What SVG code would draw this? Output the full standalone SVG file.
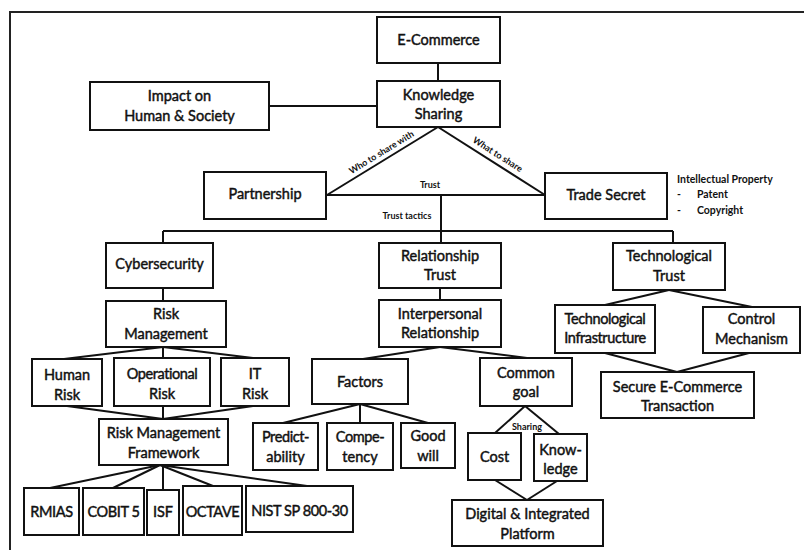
<svg xmlns="http://www.w3.org/2000/svg" width="804" height="550" viewBox="0 0 804 550">
<style>
.b{fill:#fff;stroke:#111;stroke-width:2}
.t{font-family:Lato,"Liberation Sans",sans-serif;font-size:14.5px;fill:#111;text-anchor:middle;stroke:#111;stroke-width:0.45}
.n{letter-spacing:-0.4px}
.s{font-family:Lato,"Liberation Sans",sans-serif;font-size:9px;font-weight:bold;fill:#111;text-anchor:middle}
.ip{font-family:Lato,"Liberation Sans",sans-serif;font-size:10.5px;font-weight:bold;fill:#111}
.c line{stroke:#111;stroke-width:2}
</style>
<rect width="804" height="550" fill="#fff"/>
<g id="frame"><path d="M10,550 V12 H804" fill="none" stroke="#222" stroke-width="2"/></g>
<g class="c" id="connectors">
<line x1="438" y1="63" x2="438" y2="81"/>
<line x1="269" y1="106" x2="377" y2="106"/>
<line x1="438" y1="127" x2="327" y2="195"/>
<line x1="438" y1="127" x2="545" y2="195"/>
<line x1="327" y1="195" x2="545" y2="195"/>
<line x1="441" y1="195" x2="441" y2="243"/>
<line x1="163" y1="231" x2="673" y2="231"/>
<line x1="163" y1="231" x2="163" y2="243"/>
<line x1="673" y1="231" x2="673" y2="243"/>
<line x1="163" y1="288" x2="163" y2="301"/>
<line x1="440" y1="288" x2="440" y2="300"/>
<line x1="669" y1="290" x2="605" y2="305"/>
<line x1="669" y1="290" x2="752" y2="307"/>
<line x1="605" y1="353" x2="677" y2="372"/>
<line x1="749" y1="353" x2="677" y2="372"/>
<line x1="163" y1="347" x2="64" y2="359"/>
<line x1="163" y1="347" x2="163" y2="358"/>
<line x1="163" y1="347" x2="253" y2="358"/>
<line x1="67" y1="406" x2="163" y2="419"/>
<line x1="163" y1="406" x2="163" y2="419"/>
<line x1="253" y1="406" x2="163" y2="419"/>
<line x1="160" y1="465" x2="50" y2="488"/>
<line x1="160" y1="465" x2="113" y2="488"/>
<line x1="163" y1="465" x2="163" y2="490"/>
<line x1="160" y1="465" x2="213" y2="486"/>
<line x1="160" y1="465" x2="307" y2="486"/>
<line x1="440" y1="347" x2="363" y2="359"/>
<line x1="440" y1="347" x2="527" y2="358"/>
<line x1="360" y1="404" x2="283" y2="423"/>
<line x1="360" y1="404" x2="360" y2="423"/>
<line x1="360" y1="404" x2="428" y2="423"/>
<line x1="525" y1="406" x2="495" y2="433"/>
<line x1="525" y1="406" x2="559" y2="434"/>
<line x1="495" y1="480" x2="527" y2="500"/>
<line x1="557" y1="481" x2="527" y2="500"/>
</g>
<g id="labels">
<text class="s" transform="translate(383,155) rotate(-31.5)">Who to share with</text>
<text class="s" transform="translate(496,157) rotate(32.4)">What to share</text>
<text class="s" x="430" y="188">Trust</text>
<text class="s" x="407" y="219">Trust tactics</text>
<text class="s" x="527" y="430">Sharing</text>
</g>
<g id="ecommerce"><rect class="b" x="377" y="17" width="123" height="46"/><text class="t" x="438.5" y="45">E-Commerce</text></g>
<g id="knowledge-sharing"><rect class="b" x="377" y="81" width="123" height="46"/><text class="t" x="438.5" y="100">Knowledge</text><text class="t" x="438.5" y="119">Sharing</text></g>
<g id="impact"><rect class="b" x="90" y="82" width="179" height="48"/><text class="t" x="179.5" y="101">Impact on</text><text class="t" x="179.5" y="121">Human &amp; Society</text></g>
<g id="partnership"><rect class="b" x="204" y="172" width="122" height="47"/><text class="t" x="265" y="199">Partnership</text></g>
<g id="trade-secret"><rect class="b" x="545" y="173" width="122" height="46"/><text class="t" x="606" y="200">Trade Secret</text></g>
<g id="ip-note"><text class="ip" x="677" y="183">Intellectual Property</text><text class="ip" x="677" y="198">-</text><text class="ip" x="697" y="198">Patent</text><text class="ip" x="677" y="214">-</text><text class="ip" x="697" y="214">Copyright</text></g>
<g id="cybersecurity"><rect class="b" x="106" y="243" width="107" height="45"/><text class="t" x="159.5" y="269">Cybersecurity</text></g>
<g id="relationship-trust"><rect class="b" x="379" y="243" width="122" height="45"/><text class="t" x="440" y="261">Relationship</text><text class="t" x="440" y="280">Trust</text></g>
<g id="technological-trust"><rect class="b" x="613" y="243" width="112" height="47"/><text class="t" x="669" y="261">Technological</text><text class="t" x="669" y="281">Trust</text></g>
<g id="risk-management"><rect class="b" x="106" y="301" width="120" height="46"/><text class="t" x="166" y="319">Risk</text><text class="t" x="166" y="339">Management</text></g>
<g id="interpersonal"><rect class="b" x="379" y="300" width="122" height="47"/><text class="t" x="440" y="319">Interpersonal</text><text class="t" x="440" y="338">Relationship</text></g>
<g id="tech-infra"><rect class="b" x="555" y="305" width="100" height="48"/><text class="t n" x="605" y="324">Technological</text><text class="t n" x="605" y="343">Infrastructure</text></g>
<g id="control"><rect class="b" x="703" y="307" width="97" height="46"/><text class="t" x="751.5" y="324">Control</text><text class="t" x="751.5" y="344">Mechanism</text></g>
<g id="human-risk"><rect class="b" x="32" y="359" width="70" height="47"/><text class="t" x="67" y="380">Human</text><text class="t" x="67" y="400">Risk</text></g>
<g id="operational-risk"><rect class="b" x="114" y="358" width="96" height="48"/><text class="t n" x="162" y="379">Operational</text><text class="t" x="162" y="399">Risk</text></g>
<g id="it-risk"><rect class="b" x="221" y="358" width="68" height="48"/><text class="t" x="255" y="379">IT</text><text class="t" x="255" y="399">Risk</text></g>
<g id="factors"><rect class="b" x="312" y="359" width="96" height="45"/><text class="t" x="360" y="387">Factors</text></g>
<g id="common-goal"><rect class="b" x="480" y="358" width="92" height="48"/><text class="t" x="526" y="378">Common</text><text class="t" x="526" y="397">goal</text></g>
<g id="secure"><rect class="b" x="601" y="372" width="153" height="46"/><text class="t" x="677.5" y="392">Secure E-Commerce</text><text class="t" x="677.5" y="411">Transaction</text></g>
<g id="rmf"><rect class="b" x="99" y="419" width="129" height="46"/><text class="t" x="163.5" y="438">Risk Management</text><text class="t" x="163.5" y="458">Framework</text></g>
<g id="predictability"><rect class="b" x="253" y="423" width="65" height="47"/><text class="t n" x="285.5" y="442">Predict-</text><text class="t" x="285.5" y="462">ability</text></g>
<g id="competency"><rect class="b" x="327" y="423" width="66" height="47"/><text class="t n" x="360" y="442">Compe-</text><text class="t" x="360" y="462">tency</text></g>
<g id="goodwill"><rect class="b" x="401" y="423" width="54" height="45"/><text class="t" x="428" y="441">Good</text><text class="t" x="428" y="461">will</text></g>
<g id="cost"><rect class="b" x="468" y="433" width="53" height="47"/><text class="t" x="494.5" y="462">Cost</text></g>
<g id="knowledge"><rect class="b" x="534" y="434" width="53" height="47"/><text class="t" x="560.5" y="455">Know-</text><text class="t" x="560.5" y="474">ledge</text></g>
<g id="digital"><rect class="b" x="452" y="500" width="151" height="46"/><text class="t" x="527.5" y="519">Digital &amp; Integrated</text><text class="t" x="527.5" y="539">Platform</text></g>
<g id="rmias"><rect class="b" x="24" y="488" width="55" height="47"/><text class="t n" x="51.5" y="517">RMIAS</text></g>
<g id="cobit"><rect class="b" x="83" y="488" width="61" height="47"/><text class="t n" x="113.5" y="517">COBIT 5</text></g>
<g id="isf"><rect class="b" x="147" y="490" width="32" height="45"/><text class="t" x="163" y="517">ISF</text></g>
<g id="octave"><rect class="b" x="183" y="486" width="59" height="49"/><text class="t n" x="212.5" y="517">OCTAVE</text></g>
<g id="nist"><rect class="b" x="246" y="486" width="107" height="46"/><text class="t n" x="299.5" y="516">NIST SP 800-30</text></g>
</svg>
